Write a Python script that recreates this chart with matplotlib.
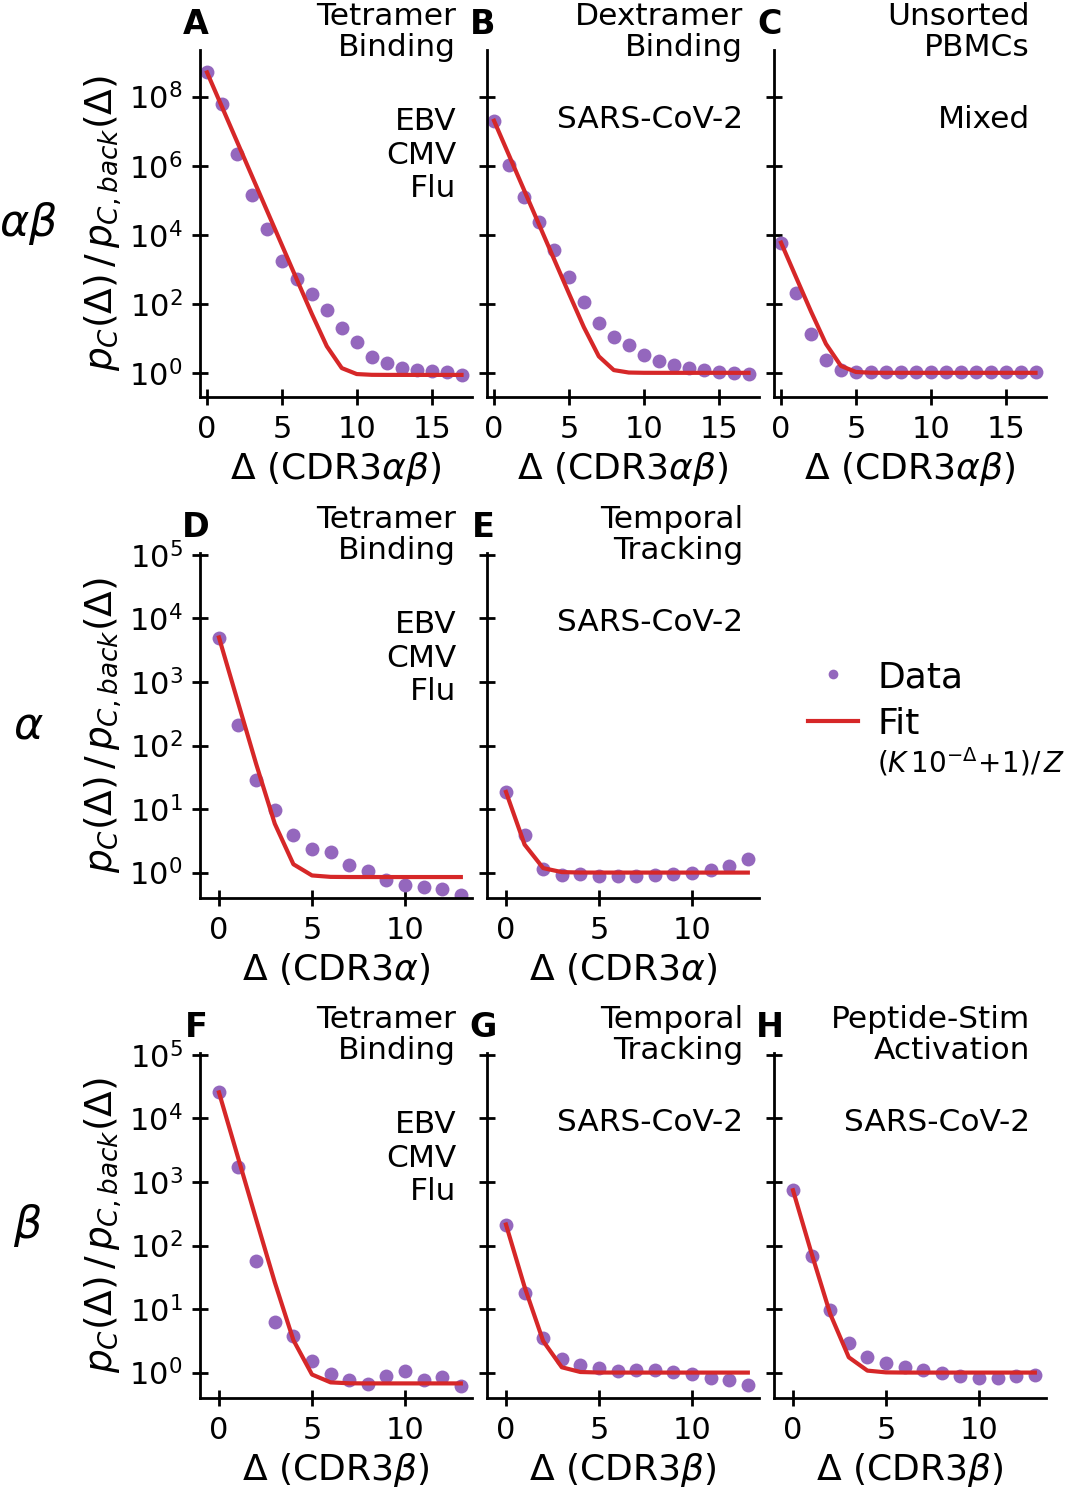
import numpy as np
import matplotlib.pyplot as plt
from matplotlib.ticker import NullLocator

# Δ values (x axis)
delta_ab = list(range(18))
delta_a = list(range(14))
delta_b = list(range(14))

# log10 of p_C(Δ)/p_C,back(Δ)
A_log = [8.70, 7.80, 6.35, 5.16, 4.17, 3.25, 2.72, 2.29, 1.83, 1.30, 0.89, 0.47, 0.29, 0.14, 0.09, 0.06, 0.01, -0.06]
B_log = [7.30, 6.02, 5.10, 4.36, 3.56, 2.77, 2.06, 1.43, 1.03, 0.80, 0.53, 0.34, 0.22, 0.15, 0.08, 0.03, 0.00, -0.04]
C_log = [3.77, 2.32, 1.12, 0.37, 0.08, 0.03, 0.02, 0.02, 0.01, 0.01, 0.01, 0.01, 0.01, 0.01, 0.01, 0.01, 0.01, 0.01]
D_log = [3.70, 2.33, 1.46, 0.99, 0.59, 0.37, 0.33, 0.12, 0.03, -0.12, -0.20, -0.22, -0.26, -0.35]
E_log = [1.27, 0.59, 0.06, -0.04, -0.02, -0.05, -0.05, -0.05, -0.04, -0.03, -0.01, 0.04, 0.10, 0.22]
F_log = [4.41, 3.23, 1.76, 0.79, 0.57, 0.19, -0.02, -0.12, -0.18, -0.06, 0.03, -0.12, -0.07, -0.21]
G_log = [2.33, 1.25, 0.54, 0.22, 0.12, 0.07, 0.03, 0.04, 0.04, 0.01, -0.03, -0.08, -0.12, -0.20]
H_log = [2.87, 1.83, 0.98, 0.47, 0.25, 0.15, 0.09, 0.04, -0.01, -0.05, -0.08, -0.08, -0.06, -0.04]

# fit parameters for (K 10^-Δ + 1) / Z
fit_K = {'A': 5.76e8, 'B': 2.0e7, 'C': 5.9e3, 'D': 5.9e3, 'E': 17.6, 'F': 3.8e4, 'G': 213, 'H': 740}
fit_Z = {'A': 1.148, 'B': 1.0, 'C': 1.0, 'D': 1.175, 'E': 1.0, 'F': 1.48, 'G': 1.0, 'H': 1.0}

panels = [
    ('A', 0, 0, delta_ab, A_log, 'Tetramer\nBinding', 'EBV\nCMV\nFlu', r'$\Delta$ (CDR3$\alpha\beta$)'),
    ('B', 0, 1, delta_ab, B_log, 'Dextramer\nBinding', 'SARS-CoV-2', r'$\Delta$ (CDR3$\alpha\beta$)'),
    ('C', 0, 2, delta_ab, C_log, 'Unsorted\nPBMCs', 'Mixed', r'$\Delta$ (CDR3$\alpha\beta$)'),
    ('D', 1, 0, delta_a, D_log, 'Tetramer\nBinding', 'EBV\nCMV\nFlu', r'$\Delta$ (CDR3$\alpha$)'),
    ('E', 1, 1, delta_a, E_log, 'Temporal\nTracking', 'SARS-CoV-2', r'$\Delta$ (CDR3$\alpha$)'),
    ('F', 2, 0, delta_b, F_log, 'Tetramer\nBinding', 'EBV\nCMV\nFlu', r'$\Delta$ (CDR3$\beta$)'),
    ('G', 2, 1, delta_b, G_log, 'Temporal\nTracking', 'SARS-CoV-2', r'$\Delta$ (CDR3$\beta$)'),
    ('H', 2, 2, delta_b, H_log, 'Peptide-Stim\nActivation', 'SARS-CoV-2', r'$\Delta$ (CDR3$\beta$)'),
]
row_names = [r'$\alpha\beta$', r'$\alpha$', r'$\beta$']

W, H = 1067, 1489
fig = plt.figure(figsize=(W / 100, H / 100), dpi=100)

col_x = [200, 487, 774]
ax_w = 272
row_y = [(50, 397), (553, 898), (1053, 1398)]

purple = '#9467bd'
red = '#d62728'

for key, r, c, x, ylog, top_txt, mid_txt, xlab in panels:
    y0, y1 = row_y[r]
    x0 = col_x[c]
    ax = fig.add_axes([x0 / W, 1 - y1 / H, ax_w / W, (y1 - y0) / H])
    xs = np.array(x)
    ax.plot(xs, 10 ** np.array(ylog), 'o', color=purple, ms=10, mec='none', zorder=2, label='Data')
    fit = (fit_K[key] * 10.0 ** (-xs) + 1) / fit_Z[key]
    ax.plot(xs, fit, '-', color=red, lw=3, zorder=3, label='Fit')
    ax.set_yscale('log')
    if r == 0:
        ax.set_xlim(-0.47, 17.7)
        ax.set_ylim(10 ** -0.7, 10 ** 9.35)
        ax.set_xticks([0, 5, 10, 15])
        ax.set_yticks([1e0, 1e2, 1e4, 1e6, 1e8])
    else:
        ax.set_xlim(-1.02, 13.6)
        ax.set_ylim(10 ** -0.4, 10 ** 5.03)
        ax.set_xticks([0, 5, 10])
        ax.set_yticks([1e0, 1e1, 1e2, 1e3, 1e4, 1e5])
    ax.yaxis.set_minor_locator(NullLocator())
    for s in ['top', 'right']:
        ax.spines[s].set_visible(False)
    for s in ['left', 'bottom']:
        ax.spines[s].set_linewidth(2)
    ax.tick_params(direction='inout', length=11, width=2, labelsize=22)
    ax.tick_params(axis='y', pad=7)
    ax.tick_params(axis='x', pad=7.5)
    if c != 0:
        ax.tick_params(axis='y', labelleft=False)
    else:
        ax.set_ylabel(r'$p_C(\Delta)\,/\,p_{C,back}(\Delta)$', fontsize=27)
        ax.yaxis.set_label_coords(-0.28, 0.5)
    ax.set_xlabel(xlab, fontsize=26, labelpad=4)

    ax.annotate(key, xy=(0, 1), xycoords='axes fraction', xytext=(-4, 16),
                textcoords='offset pixels', ha='center', va='baseline',
                fontsize=24, fontweight='bold')
    # va='baseline' lines up the last line of the block
    ax.annotate(top_txt, xy=(1, 1), xycoords='axes fraction', xytext=(-16, -6),
                textcoords='offset pixels', ha='right', va='baseline',
                fontsize=22.5, linespacing=1.09)
    n_lines = mid_txt.count('\n') + 1
    ax.annotate(mid_txt, xy=(1, 1), xycoords='axes fraction',
                xytext=(-16, -78 - 34.5 * (n_lines - 1)),
                textcoords='offset pixels', ha='right', va='baseline',
                fontsize=22.5, linespacing=1.19)
    if key == 'A':
        handles, labels = ax.get_legend_handles_labels()

for r, name in enumerate(row_names):
    yc = (row_y[r][0] + row_y[r][1]) / 2
    fig.text(28 / W, 1 - yc / H, name, fontsize=32, ha='center', va='center')

fig.legend(handles, labels, loc='upper left', bbox_to_anchor=(808 / W, 1 - 660 / H),
           frameon=False, fontsize=26, handlelength=1.39, handletextpad=0.53,
           labelspacing=0.36, borderpad=0, borderaxespad=0, markerscale=0.7)
fig.text(877 / W, 1 - 762 / H, r'$(K\,10^{-\Delta}\!+\!1)/\,Z$', fontsize=20,
         ha='left', va='center')

fig.savefig('out.png', dpi=100)
